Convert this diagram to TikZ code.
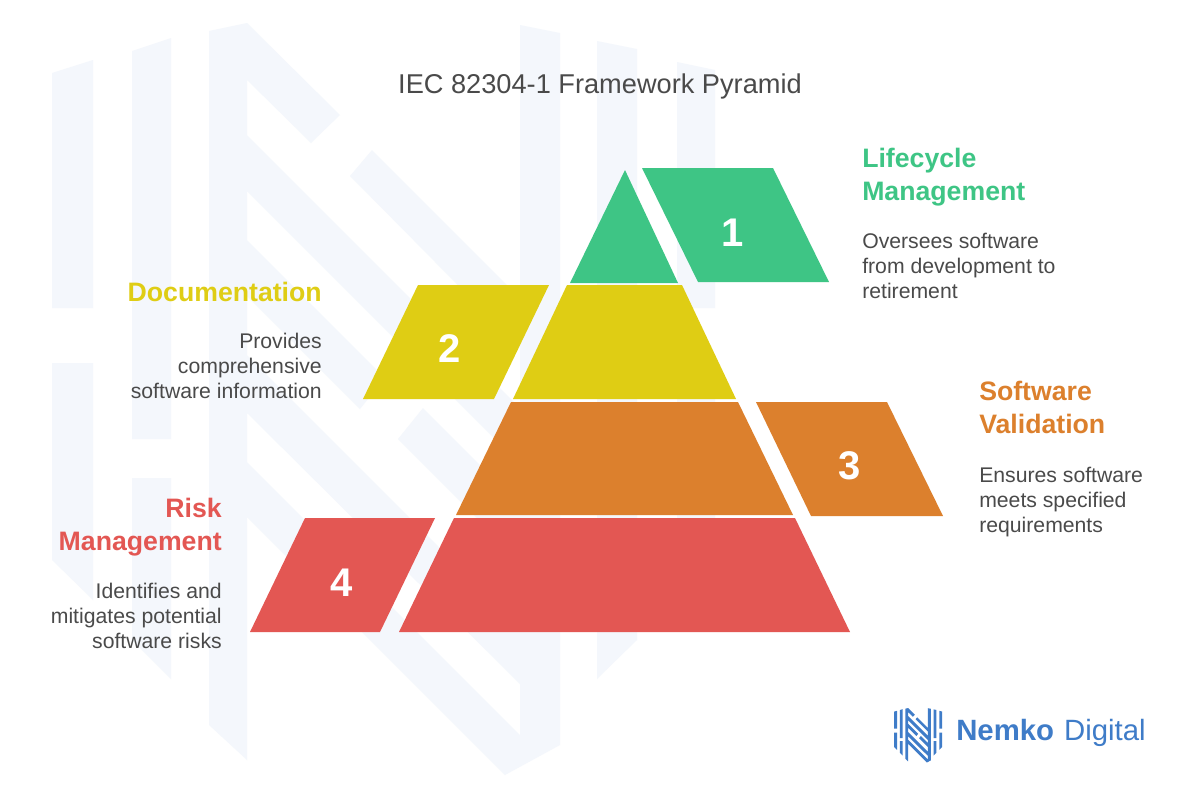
\documentclass[tikz,border=0pt]{standalone}
\usepackage{fontspec}
\setmainfont{Liberation Sans}
\definecolor{wmark}{HTML}{F4F7FC}
\definecolor{logoblue}{HTML}{3F7CC8}
\definecolor{greenc}{HTML}{3EC585}
\definecolor{yellowc}{HTML}{DFCD14}
\definecolor{orangec}{HTML}{DC802D}
\definecolor{redc}{HTML}{E35753}
\definecolor{titlec}{HTML}{4A4A4A}
\newcommand{\markshape}{
    (52,73)--(93,60)--(93,308)--(52,308)--cycle
    (52,363)--(93,363)--(93,600)--(52,560)--cycle
    (132,51)--(171,38)--(171,439)--(132,439)--cycle
    (132,478)--(171,478)--(171,679)--(132,640)--cycle
    (209,31)--(247,23)--(247,760)--(209,725)--cycle
    (247,23)--(340,115)--(311,143)--(247,80)--cycle
    (350,176)--(372,150)--(520,298)--(520,348)--cycle
    (247,135)--(520,408)--(520,464)--(247,191)--cycle
    (247,240)--(385,378)--(360,409)--(247,296)--cycle
    (398,439)--(423,408)--(520,505)--(520,561)--cycle
    (247,355)--(520,628)--(520,684)--(247,413)--cycle
    (247,462)--(520,735)--(520,760)--(505,775)--(247,517)--cycle
    (520,25)--(560,33)--(560,745)--(505,775)--(520,760)--cycle
    (597,41)--(637,49)--(637,439)--(597,439)--cycle
    (597,478)--(637,478)--(637,640)--(597,679)--cycle
    (677,62)--(715,70)--(715,308)--(677,308)--cycle
    (677,363)--(715,363)--(715,560)--(677,600)--cycle
}
\begin{document}
\begin{tikzpicture}[x=0.75pt,y=-0.75pt,line join=round,
    headtext/.style={font=\bfseries\fontsize{20}{25}\selectfont,inner sep=0pt},
    bodytext/.style={font=\fontsize{15.9}{18.75}\selectfont,text=titlec,inner sep=0pt},
    numtext/.style={font=\bfseries\fontsize{30}{30}\selectfont,text=white,inner sep=0pt}]
    \useasboundingbox (0,0) rectangle (1200,800);
    \fill[white] (0,0) rectangle (1200,800);
    \fill[wmark,nonzero rule] \markshape;
    % pyramid
    \fill[greenc] (625,170)--(678,283)--(570,283)--cycle;
    \fill[greenc] (642,168)--(773,168)--(829,282)--(698,282)--cycle;
    \fill[yellowc] (567,285)--(682,285)--(736,399)--(513,399)--cycle;
    \fill[yellowc] (418,285)--(549,285)--(494,399)--(363,399)--cycle;
    \fill[orangec] (511,402)--(738,402)--(793,515)--(456,515)--cycle;
    \fill[orangec] (756,402)--(887,402)--(943,516)--(811,516)--cycle;
    \fill[redc] (454,518)--(795,518)--(850,632)--(399,632)--cycle;
    \fill[redc] (305,518)--(435,518)--(380,632)--(250,632)--cycle;
    \node[numtext] (num1) at (733,233) {1};
    \node[numtext] (num2) at (450,349) {2};
    \node[numtext] (num3) at (850,466) {3};
    \node[numtext] (num4) at (342,583) {4};
    % labels
    \node[font=\fontsize{20.4}{24}\selectfont,text=titlec,inner sep=0pt] (title) at (600,86) {IEC 82304-1 Framework Pyramid};
    \node[headtext,text=greenc,align=left,anchor=north west] (head1) at (862,148) {Lifecycle\\Management};
    \node[bodytext,align=left,anchor=north west] (body1) at (862,233) {Oversees software\\from development to\\retirement};
    \node[headtext,text=yellowc,align=right,anchor=north east] (head2) at (322,282) {Documentation};
    \node[bodytext,align=right,anchor=north east] (body2) at (322,333) {Provides\\comprehensive\\software information};
    \node[headtext,text=orangec,align=left,anchor=north west] (head3) at (979,381) {Software\\Validation};
    \node[bodytext,align=left,anchor=north west] (body3) at (979,467) {Ensures software\\meets specified\\requirements};
    \node[headtext,text=redc,align=right,anchor=north east] (head4) at (222,498) {Risk\\Management};
    \node[bodytext,align=right,anchor=north east] (body4) at (222,583) {Identifies and\\mitigates potential\\software risks};
    % logo
    \begin{scope}[shift={(890.3,706.4)},x=0.0543pt,y=-0.0543pt]
        \fill[logoblue,nonzero rule] \markshape;
    \end{scope}
    \node[font=\bfseries\fontsize{22}{22}\selectfont,text=logoblue,inner sep=0pt,anchor=base west] (nemko) at (956,740) {Nemko};
    \node[font=\fontsize{22}{22}\selectfont,text=logoblue,inner sep=0pt,anchor=base east] (digital) at (1146,740) {Digital};
\end{tikzpicture}
\end{document}
